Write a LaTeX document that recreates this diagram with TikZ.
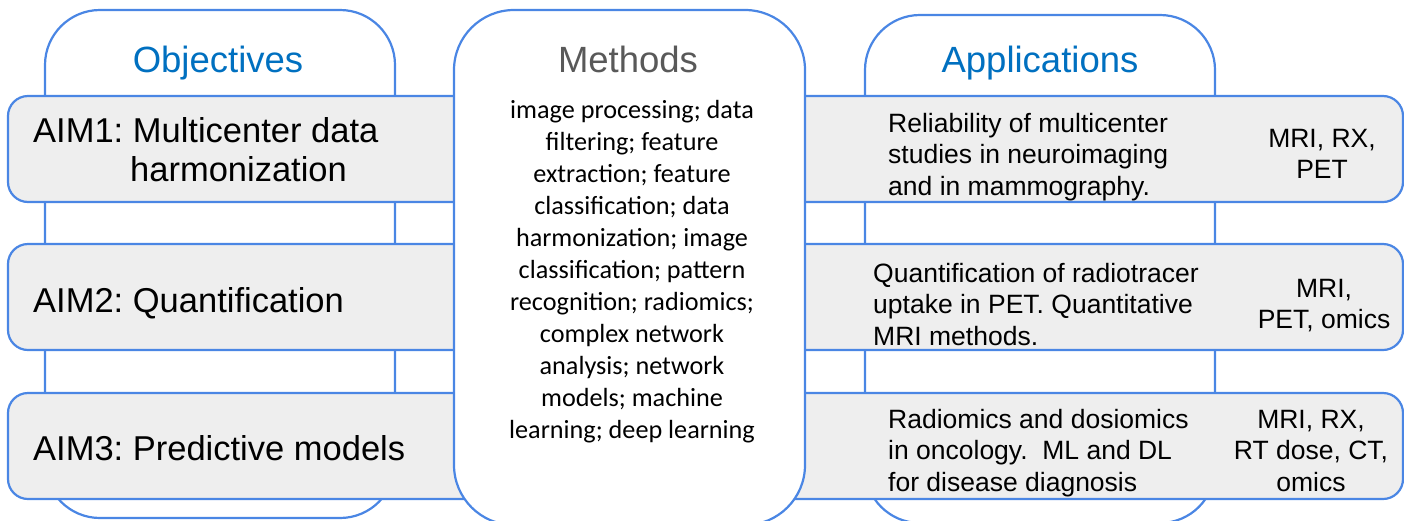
\documentclass[tikz,border=0pt]{standalone}
\usepackage{fontspec}
\setmainfont{Liberation Sans}
\newfontfamily\calib{Carlito}
\frenchspacing
\definecolor{edgeblue}{RGB}{74,134,228}
\definecolor{barfill}{RGB}{238,238,238}
\definecolor{titleblue}{RGB}{0,112,192}
\definecolor{titlegray}{RGB}{89,89,89}
\newcommand\mkleft[1]{\vtop{\hsize=420pt\parindent=0pt\raggedright\noindent #1\par}}
\newcommand\mkcenter[2]{\vtop{\hsize=#1\parindent=0pt\centering\noindent #2\par}}
\tikzset{
  colbox/.style={draw=edgeblue, line width=2.2pt, fill=white, rounded corners=55pt,
                 minimum width=350pt, minimum height=508pt, inner sep=0pt},
  methbox/.style={draw=edgeblue, line width=2.2pt, fill=white, rounded corners=60pt,
                 minimum width=351pt, minimum height=515pt, inner sep=0pt},
  barbox/.style={draw=edgeblue, line width=2.2pt, fill=barfill, rounded corners=20pt,
                 minimum width=1395pt, minimum height=106pt, inner sep=0pt},
  titletxt/.style={anchor=base, inner sep=0pt, font=\fontsize{36.5pt}{40pt}\selectfont},
  aimtxt/.style={anchor=base west, inner sep=0pt, font=\fontsize{34.5pt}{39.5pt}\selectfont},
  apptxt/.style={anchor=base west, inner sep=0pt, font=\fontsize{26.5pt}{31.5pt}\selectfont},
  modtxt/.style={anchor=base, inner sep=0pt, font=\fontsize{26.5pt}{31.5pt}\selectfont},
  methtxt/.style={anchor=base, inner sep=0pt, font=\calib\fontsize{26.2pt}{32pt}\selectfont}
}
\begin{document}
\begin{tikzpicture}[x=1pt, y=-1pt]
\useasboundingbox (0,0) rectangle (1404,520);
\clip (0,0) rectangle (1404,520);
% columns
\node[colbox] (obj) at (220,264) {};
\node[colbox] (app) at (1040,269) {};
% bars
\node[barbox] (bar1) at (705.5,149) {};
\node[barbox] (bar2) at (705.5,297) {};
\node[barbox] (bar3) at (705.5,446) {};
% methods column
\node[methbox] (meth) at (629.5,267.5) {};
% titles
\node[titletxt, text=titleblue] (tobj) at (218,72) {Objectives};
\node[titletxt, text=titlegray] (tmeth) at (628,72) {Methods};
\node[titletxt, text=titleblue] (tapp) at (1040,72) {Applications};
% aims
\node[aimtxt] (aim1) at (33,142) {\mkleft{AIM1: Multicenter data\\\hspace*{97pt}harmonization}};
\node[aimtxt] (aim2) at (33,312) {AIM2: Quantification};
\node[aimtxt] (aim3) at (33,460) {AIM3: Predictive models};
% methods text
\node[methtxt] (mtext) at (632,118) {\mkcenter{340pt}{image processing; data\\filtering; feature\\extraction; feature\\classification; data\\harmonization; image\\classification; pattern\\recognition; radiomics;\\complex network\\analysis; network\\models; machine\\learning; deep learning}};
% applications
\node[apptxt] (app1) at (888,132) {\mkleft{Reliability of multicenter\\studies in neuroimaging\\and in mammography.}};
\node[apptxt] (app2) at (873,282) {\mkleft{Quantification of radiotracer\\uptake in PET. Quantitative\\MRI methods.}};
\node[apptxt] (app3) at (888,428) {\mkleft{Radiomics and dosiomics\\in oncology.\ \ ML and DL\\for disease diagnosis}};
% modalities
\node[modtxt] (mod1) at (1322,147) {\mkcenter{170pt}{MRI, RX,\\PET}};
\node[modtxt] (mod2) at (1324,297) {\mkcenter{170pt}{MRI,\\PET, omics}};
\node[modtxt] (mod3) at (1311,428) {\mkcenter{170pt}{MRI, RX,\\RT dose, CT,\\omics}};
\end{tikzpicture}
\end{document}
